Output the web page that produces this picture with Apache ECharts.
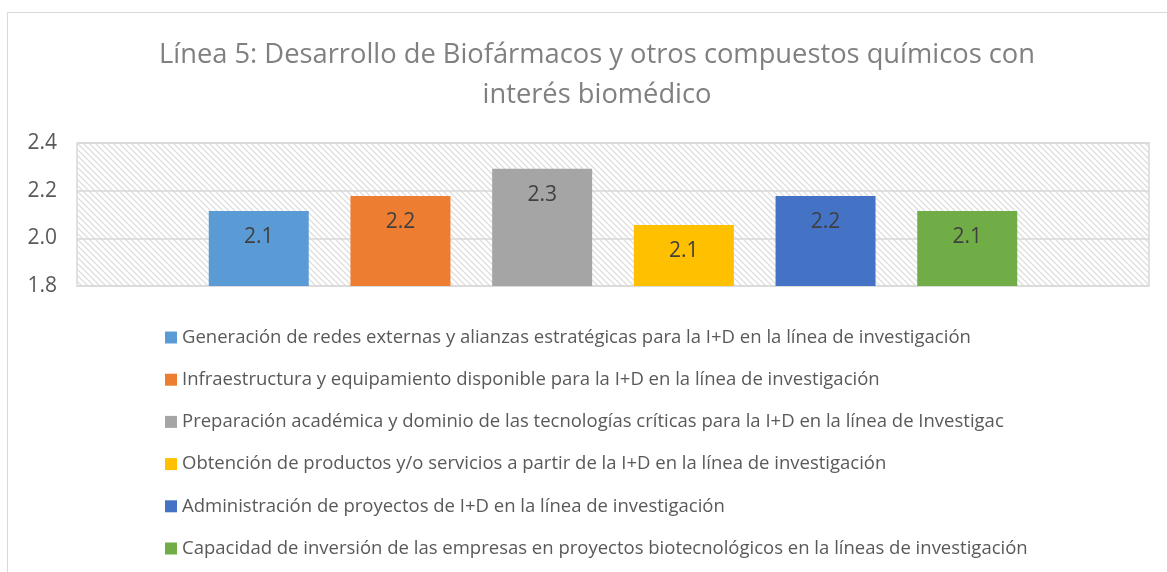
<!DOCTYPE html>
<html>
<head>
<meta charset="utf-8">
<script src="https://cdn.jsdelivr.net/npm/echarts@6/dist/echarts.min.js"></script>
<style>
  html, body { margin: 0; padding: 0; background: #fff; }
  #chart { width: 1167px; height: 572px; }
</style>
</head>
<body>
<div id="chart"></div>
<script>
const titleText = "Línea 5: Desarrollo de Biofármacos y otros compuestos químicos con\ninterés biomédico";
const categories = [""];
const seriesNames = [
    "Generación de redes externas y alianzas estratégicas para la I+D en la línea de investigación",
    "Infraestructura y equipamiento disponible para la I+D en la línea de investigación",
    "Preparación académica y dominio de las tecnologías críticas para la I+D en la línea de Investigac",
    "Obtención de productos y/o servicios a partir de la I+D en la línea de investigación",
    "Administración de proyectos de I+D en la línea de investigación",
    "Capacidad de inversión de las empresas en proyectos biotecnológicos en la líneas de investigación"
];
const seriesValues = [2.115, 2.178, 2.292, 2.056, 2.178, 2.115];
const seriesColors = ["#5b9bd5", "#ed7d31", "#a5a5a5", "#ffc000", "#4472c4", "#70ad47"];

// hatch pattern for the plot area
function makeHatch() {
    const c = document.createElement("canvas");
    c.width = 6;
    c.height = 6;
    const ctx = c.getContext("2d");
    ctx.fillStyle = "#ffffff";
    ctx.fillRect(0, 0, 6, 6);
    ctx.strokeStyle = "#dedede";
    ctx.lineWidth = 1.3;
    ctx.beginPath();
    ctx.moveTo(-1, -1); ctx.lineTo(7, 7);
    ctx.moveTo(-4, 2); ctx.lineTo(4, 10);
    ctx.moveTo(2, -4); ctx.lineTo(10, 4);
    ctx.stroke();
    return c;
}

const chart = echarts.init(document.getElementById("chart"));
const font = "Open Sans";

const option = {
    animation: false,
    textStyle: { fontFamily: font },
    title: {
        text: titleText,
        left: 592,
        textAlign: "center",
        top: 30,
        textStyle: {
            color: "#808080",
            fontSize: 27.3,
            fontWeight: "normal",
            lineHeight: 40,
            fontFamily: font
        }
    },
    graphic: [{
        type: "rect",
        shape: { x: 7.5, y: 12.5, width: 1170, height: 580 },
        style: { fill: null, stroke: "#d9d9d9", lineWidth: 1 },
        silent: true
    }],
    grid: {
        left: 77,
        right: 18,
        top: 143,
        height: 143,
        show: true,
        backgroundColor: { image: makeHatch(), repeat: "repeat" },
        borderColor: "#d9d9d9",
        borderWidth: 1.5
    },
    legend: {
        orient: "vertical",
        left: 160,
        top: 323,
        itemWidth: 12,
        itemHeight: 12,
        itemGap: 23.2,
        icon: "rect",
        textStyle: { color: "#595959", fontSize: 18.5, fontFamily: font },
        data: seriesNames
    },
    xAxis: {
        type: "category",
        data: categories,
        axisLine: { show: false },
        axisTick: { show: false },
        axisLabel: { show: false }
    },
    yAxis: {
        type: "value",
        min: 1.8,
        max: 2.4,
        interval: 0.2,
        axisLine: { show: false },
        axisTick: { show: false },
        splitLine: { lineStyle: { color: "#d9d9d9", width: 1.5 } },
        axisLabel: {
            color: "#595959",
            fontSize: 21,
            margin: 20,
            fontFamily: font,
            formatter: function (v) { return v.toFixed(1); }
        }
    },
    series: seriesNames.map(function (name, i) {
        return {
            name: name,
            type: "bar",
            data: [seriesValues[i]],
            barWidth: 100,
            barGap: "41.7%",
            itemStyle: { color: seriesColors[i] },
            label: {
                show: true,
                position: "insideTop",
                distance: 16,
                color: "#404040",
                fontSize: 21,
                fontFamily: font,
                formatter: function (p) { return p.value.toFixed(1); }
            }
        };
    })
};

chart.setOption(option);
</script>
</body>
</html>
